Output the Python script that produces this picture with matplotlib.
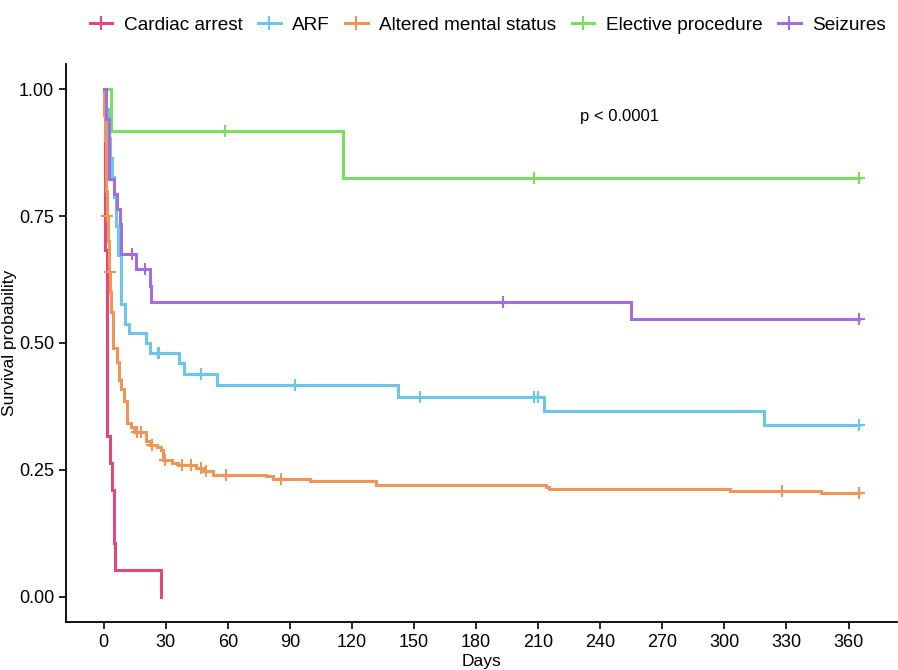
import numpy as np
import matplotlib.pyplot as plt
from matplotlib.lines import Line2D

plt.rcParams['font.family'] = ['Liberation Sans', 'DejaVu Sans']

groups = ["Cardiac arrest", "ARF", "Altered mental status", "Elective procedure", "Seizures"]
colors = ["#E2487A", "#6DC5E8", "#EE9658", "#7ADE5E", "#A26EDB"]

# step times (days) and survival after each step, censor times, end of follow-up
ca_t = [0, 0.5, 1.7, 2.9, 3.9, 4.8, 5.6, 27.9]
ca_s = [1.0, 0.684, 0.316, 0.263, 0.211, 0.105, 0.053, 0.0]
ca_c = []
ca_end = 27.9

arf_t = [0, 1, 2, 3, 4.2, 5, 5.8, 6.9, 8.2, 10.5, 12.2, 20.6, 22.2, 36.2, 38.6, 54.7, 142.2, 212.7, 319]
arf_s = [1.0, 0.962, 0.904, 0.865, 0.827, 0.788, 0.731, 0.673, 0.577, 0.538, 0.519, 0.5, 0.481,
         0.46, 0.439, 0.417, 0.394, 0.366, 0.338]
arf_c = [26.2, 26.8, 47.2, 92.3, 153, 208.2, 210.1, 365]
arf_end = 365

ams_t = [0, 0.3, 0.6, 0.9, 1.2, 1.5, 2.0, 2.5, 3.2, 3.4, 4.4, 4.6, 6.4, 7.2, 8.5, 9.8, 11.2, 13.0,
         14.5, 20.6, 22.5, 25.5, 27.5, 28.7, 33, 36, 44.7, 48, 52.8, 78.6, 81.8, 99.5, 131.7,
         213.8, 215.4, 302.9, 346.7]
ams_s = [1.0, 0.95, 0.90, 0.85, 0.80, 0.75, 0.70, 0.64, 0.60, 0.562, 0.525, 0.49, 0.463, 0.427,
         0.41, 0.385, 0.342, 0.335, 0.324, 0.306, 0.298, 0.294, 0.289, 0.27, 0.264, 0.259, 0.253,
         0.247, 0.24, 0.237, 0.232, 0.227, 0.22, 0.216, 0.213, 0.209, 0.204]
ams_c = [1.7, 2.9, 15.9, 17.8, 23.4, 29.5, 37.8, 42, 47.2, 49.5, 59.2, 85.8, 327.8, 365]
ams_end = 365

el_t = [0, 3.7, 115.5]
el_s = [1.0, 0.917, 0.825]
el_c = [58.8, 208.2, 365]
el_end = 365

sz_t = [0, 1, 2.6, 4.8, 6.4, 7.7, 8.5, 15.8, 22.2, 22.8, 255]
sz_s = [1.0, 0.941, 0.824, 0.794, 0.765, 0.735, 0.676, 0.645, 0.613, 0.581, 0.547]
sz_c = [13.8, 19.8, 192.8, 365]
sz_end = 365

series = [(ca_t, ca_s, ca_c, ca_end), (arf_t, arf_s, arf_c, arf_end), (ams_t, ams_s, ams_c, ams_end),
          (el_t, el_s, el_c, el_end), (sz_t, sz_s, sz_c, sz_end)]

fig = plt.figure(figsize=(8.98, 6.7), dpi=100)
ax = fig.add_axes([0.0735, 0.0716, 0.925, 0.833])

for (t, s, c, end), col in zip(series, colors):
    t = list(t)
    s = list(s)
    if end > t[-1]:
        t.append(end)
        s.append(s[-1])
    ax.step(t, s, where='post', color=col, lw=2.2, solid_joinstyle='miter')
    if c:
        idx = np.searchsorted(np.array(t), np.array(c), side='right') - 1
        ax.plot(c, np.array(s)[idx], linestyle='none', marker='+', ms=8.5, mew=1.5, color=col)

ax.text(230, 0.947, "p < 0.0001", fontsize=12, ha='left', va='center')

ax.set_xlim(-18.25, 383.25)
ax.set_ylim(-0.05, 1.05)
ax.set_xticks(np.arange(0, 361, 30))
ax.set_yticks([0, 0.25, 0.5, 0.75, 1.0])
ax.set_yticklabels(["0.00", "0.25", "0.50", "0.75", "1.00"])
ax.tick_params(labelsize=13, length=5, width=1.2, colors='black')
ax.spines['top'].set_visible(False)
ax.spines['right'].set_visible(False)
ax.spines['left'].set_linewidth(1.3)
ax.spines['bottom'].set_linewidth(1.3)
ax.set_xlabel("Days", fontsize=12.5, labelpad=2)
ax.set_ylabel("Survival probability", fontsize=12.5, va='center')
ax.yaxis.set_label_coords(-0.068, 0.5)

handles = [Line2D([], [], color=col, lw=2.2, marker='+', ms=10, mew=1.5) for col in colors]
fig.legend(handles, groups, loc='center', bbox_to_anchor=(0.543, 0.962), ncol=5, frameon=False,
           fontsize=13.7, handlelength=1.2, handletextpad=0.6, columnspacing=0.8)

fig.savefig("out.png", dpi=100)
